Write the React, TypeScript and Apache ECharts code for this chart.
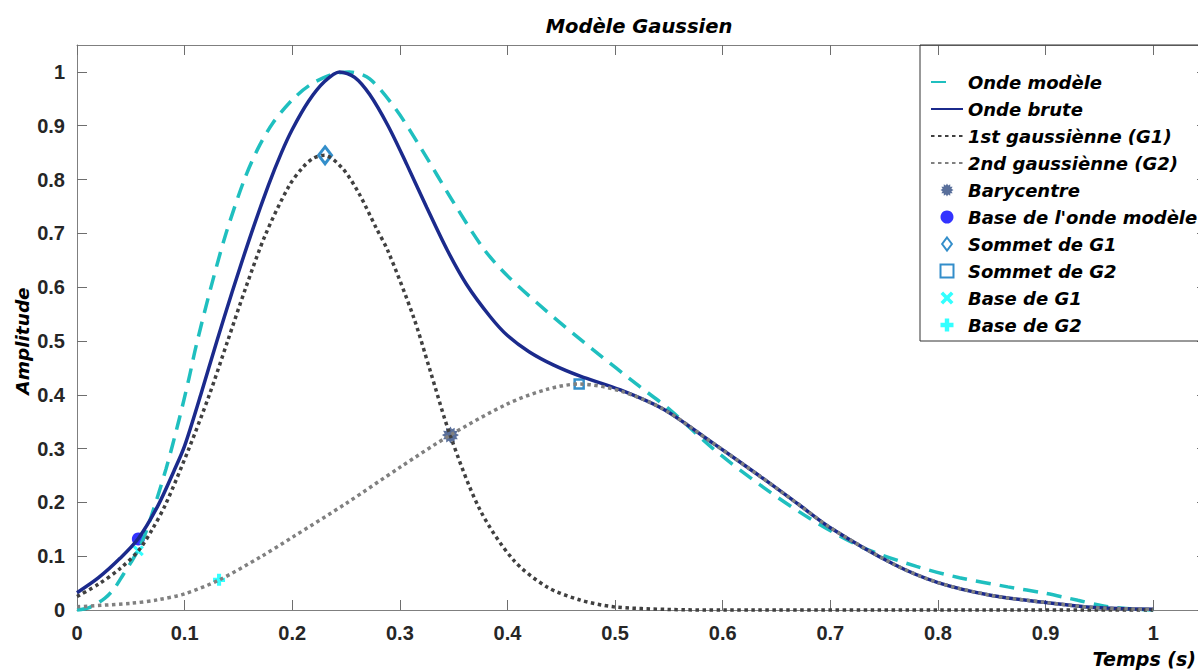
import React, { useEffect, useRef } from "react";
import * as echarts from "echarts";

// ---------- data ----------
const ondeModele: [number, number][] = [
  [0, 0], [0.012, 0.005], [0.026, 0.022], [0.035, 0.041], [0.043, 0.066], [0.05, 0.088],
  [0.057, 0.112], [0.065, 0.15], [0.0827, 0.262], [0.095, 0.355], [0.104, 0.43], [0.1106, 0.49],
  [0.1245, 0.6], [0.1385, 0.7], [0.1555, 0.8], [0.168, 0.857], [0.182, 0.905], [0.2, 0.948],
  [0.216, 0.975], [0.235, 0.994], [0.253, 1.0], [0.272, 0.987], [0.2965, 0.93], [0.32, 0.857],
  [0.35, 0.757], [0.3776, 0.672], [0.399, 0.623], [0.4365, 0.555], [0.48, 0.483], [0.523, 0.415],
  [0.551, 0.372], [0.591, 0.3], [0.635, 0.232], [0.681, 0.17], [0.728, 0.118], [0.78, 0.081],
  [0.82, 0.06], [0.865, 0.043], [0.9, 0.031], [0.93, 0.018], [0.955, 0.007], [0.98, 0.002], [1, 0],
];

const ondeBrute: [number, number][] = [
  [0, 0.032], [0.02, 0.06], [0.04, 0.096], [0.057, 0.133], [0.075, 0.193], [0.09, 0.258],
  [0.1, 0.305], [0.115, 0.4], [0.13, 0.5], [0.144, 0.59], [0.162, 0.7], [0.178, 0.79],
  [0.19, 0.85], [0.2, 0.893], [0.215, 0.945], [0.23, 0.982], [0.244, 1.0], [0.258, 0.99],
  [0.272, 0.958], [0.289, 0.9], [0.306, 0.83], [0.325, 0.748], [0.344, 0.669], [0.362, 0.605],
  [0.384, 0.545], [0.4, 0.51], [0.42, 0.48], [0.443, 0.455], [0.467, 0.435], [0.505, 0.409],
  [0.545, 0.373], [0.591, 0.31], [0.635, 0.248], [0.67, 0.197], [0.7, 0.153], [0.759, 0.085],
  [0.8, 0.051], [0.85, 0.027], [0.9, 0.014], [0.945, 0.0045], [1, 0.0012],
];

const gauss1: [number, number][] = [
  [0, 0.025], [0.02, 0.048], [0.04, 0.077], [0.057, 0.11], [0.07, 0.15], [0.0827, 0.198],
  [0.104, 0.3], [0.123, 0.4], [0.14, 0.5], [0.157, 0.6], [0.175, 0.697], [0.197, 0.788],
  [0.21, 0.823], [0.22, 0.84], [0.23, 0.845], [0.247, 0.82], [0.262, 0.774], [0.278, 0.71],
  [0.289, 0.667], [0.3126, 0.545], [0.328, 0.446], [0.3467, 0.325], [0.3745, 0.186], [0.4055, 0.093],
  [0.4365, 0.043], [0.4675, 0.0186], [0.4985, 0.006], [0.55, 0.001], [0.6, 0], [0.8, 0], [1, 0],
];

const gauss2: [number, number][] = [
  [0, 0.006], [0.05, 0.0125], [0.075, 0.019], [0.1, 0.03], [0.132, 0.0557], [0.17, 0.098],
  [0.2, 0.135], [0.25, 0.198], [0.3, 0.265], [0.3467, 0.325], [0.4, 0.383], [0.4365, 0.41],
  [0.4666, 0.42], [0.505, 0.407], [0.545, 0.373], [0.591, 0.31], [0.635, 0.248], [0.67, 0.197],
  [0.7, 0.153], [0.759, 0.085], [0.8, 0.051], [0.85, 0.027], [0.9, 0.014], [0.945, 0.0045],
  [1, 0.0012],
];

const barycentre: [number, number][] = [[0.347, 0.325]];
const baseOndeModele: [number, number][] = [[0.057, 0.132]];
const sommetG1: [number, number][] = [[0.2305, 0.845]];
const sommetG2: [number, number][] = [[0.4666, 0.42]];
const baseG1: [number, number][] = [[0.057, 0.11]];
const baseG2: [number, number][] = [[0.132, 0.056]];

const seriesNames = [
  "Onde modèle",
  "Onde brute",
  "1st gaussiènne (G1)",
  "2nd gaussiènne (G2)",
  "Barycentre",
  "Base de l'onde modèle",
  "Sommet de G1",
  "Sommet de G2",
  "Base de G1",
  "Base de G2",
];

const titleText = "Modèle Gaussien";
const xName = "Temps (s)";
const yName = "Amplitude";

// ---------- styling helpers ----------
const TXT_FONT = "'DejaVu Sans', Verdana, sans-serif";
const NUM_FONT = "'Liberation Sans', Arial, sans-serif";

function burstSymbol(): string {
  const n = 12;
  const ro = 10;
  const ri = 7;
  let d = "";
  for (let i = 0; i < 2 * n; i++) {
    const r = i % 2 === 0 ? ro : ri;
    const a = (i * Math.PI) / n - Math.PI / 2;
    const px = 10 + r * Math.cos(a);
    const py = 10 + r * Math.sin(a);
    d += (i === 0 ? "M" : "L") + px.toFixed(2) + "," + py.toFixed(2);
  }
  return "path://" + d + "Z";
}
const X_SYMBOL = "path://M2,0 L5,3 L8,0 L10,2 L7,5 L10,8 L8,10 L5,7 L2,10 L0,8 L3,5 L0,2 Z";
const PLUS_SYMBOL = "path://M3.3,0 H6.7 V3.3 H10 V6.7 H6.7 V10 H3.3 V6.7 H0 V3.3 H3.3 Z";
const DIAMOND_SYMBOL = "path://M6,0 L12,8 L6,16 L0,8 Z";
const SQUARE_SYMBOL = "path://M0,0 H10 V10 H0 Z";

export default function App() {
  const ref = useRef<HTMLDivElement>(null);

  useEffect(() => {
    if (!ref.current) return;
    const chart = echarts.init(ref.current, undefined, { renderer: "svg" });

    const axisCommon = {
      type: "value" as const,
      min: 0,
      max: 1.05,
      interval: 0.1,
      splitLine: { show: false },
      axisLine: { show: true, onZero: false, lineStyle: { color: "#7f7f7f", width: 1 } },
      axisTick: { show: true, inside: true, length: 10, lineStyle: { color: "#6e6e6e", width: 1 } },
    };
    const labelCommon = {
      show: true,
      showMaxLabel: false,
      fontSize: 20,
      fontWeight: "bold" as const,
      fontFamily: NUM_FONT,
      color: "#262626",
    };

    const lineCommon = {
      type: "line" as const,
      symbol: "none",
      showSymbol: false,
      smooth: 0.3,
      clip: false,
    };

    const hiddenSym = { opacity: 0 };
    const nameText = (text: string, fontSize: number) => ({
      text,
      fontSize,
      fontWeight: "bold",
      fontStyle: "italic",
      fontFamily: TXT_FONT,
      fill: "#000",
      verticalAlign: "middle",
    });

    chart.setOption({
      animation: false,
      backgroundColor: "#ffffff",
      grid: { left: 77, top: 45, right: 13, bottom: 61, containLabel: false },
      xAxis: [
        { ...axisCommon, position: "bottom", axisLabel: { ...labelCommon, margin: 13 } },
        { ...axisCommon, position: "top", axisLabel: { show: false } },
      ],
      yAxis: [
        { ...axisCommon, position: "left", axisLabel: { ...labelCommon, margin: 12 } },
        { ...axisCommon, position: "right", axisLabel: { show: false } },
      ],
      legend: {
        orient: "vertical",
        left: 920,
        top: 45,
        padding: [27, 30, 6, 10],
        itemWidth: 32,
        itemHeight: 13,
        itemGap: 7,
        borderColor: "#333333",
        borderWidth: 1,
        backgroundColor: "transparent",
        textStyle: {
          fontSize: 18,
          fontWeight: "bold",
          fontStyle: "italic",
          fontFamily: TXT_FONT,
          color: "#000000",
          lineHeight: 20,
        },
        data: [
          { name: seriesNames[0], lineStyle: { type: [15, 30] }, itemStyle: hiddenSym },
          { name: seriesNames[1], itemStyle: hiddenSym },
          { name: seriesNames[2], itemStyle: hiddenSym },
          { name: seriesNames[3], itemStyle: hiddenSym },
          seriesNames[4],
          seriesNames[5],
          seriesNames[6],
          seriesNames[7],
          seriesNames[8],
          seriesNames[9],
        ],
      },
      graphic: [
        {
          type: "text",
          x: 639,
          y: 26,
          style: { ...nameText(titleText, 19.5), align: "center" },
        },
        {
          type: "text",
          x: 1196,
          y: 659,
          style: { ...nameText(xName, 19), align: "right" },
        },
        {
          type: "text",
          x: 22,
          y: 341,
          rotation: Math.PI / 2,
          style: { ...nameText(yName, 18.5), align: "center" },
        },
      ],
      series: [
        {
          ...lineCommon,
          name: seriesNames[0],
          data: ondeModele,
          itemStyle: { color: "#1fbfbf" },
          lineStyle: { color: "#1fbfbf", width: 3.5, type: [15, 9] },
        },
        {
          ...lineCommon,
          name: seriesNames[1],
          data: ondeBrute,
          itemStyle: { color: "#1b2a8c" },
          lineStyle: { color: "#1b2a8c", width: 3.5, type: "solid" },
        },
        {
          ...lineCommon,
          name: seriesNames[2],
          data: gauss1,
          itemStyle: { color: "#404040" },
          lineStyle: { color: "#404040", width: 3.5, type: [3.5, 3.5] },
        },
        {
          ...lineCommon,
          name: seriesNames[3],
          data: gauss2,
          itemStyle: { color: "#808080" },
          lineStyle: { color: "#808080", width: 3.5, type: [3.5, 3.5] },
        },
        {
          type: "scatter",
          name: seriesNames[4],
          data: barycentre,
          symbol: burstSymbol(),
          symbolSize: 17,
          itemStyle: { color: "#2f4b82" },
        },
        {
          type: "scatter",
          name: seriesNames[5],
          data: baseOndeModele,
          symbol: "circle",
          symbolSize: 13,
          itemStyle: { color: "#0000ff" },
        },
        {
          type: "scatter",
          name: seriesNames[6],
          data: sommetG1,
          symbol: DIAMOND_SYMBOL,
          symbolSize: [13, 17],
          itemStyle: { color: "#ffffff", borderColor: "#0072bd", borderWidth: 3 },
        },
        {
          type: "scatter",
          name: seriesNames[7],
          data: sommetG2,
          symbol: SQUARE_SYMBOL,
          symbolSize: 9,
          itemStyle: { color: "#ffffff", borderColor: "#0072bd", borderWidth: 2.5 },
        },
        {
          type: "scatter",
          name: seriesNames[8],
          data: baseG1,
          symbol: X_SYMBOL,
          symbolSize: 11,
          itemStyle: { color: "#00ffff" },
        },
        {
          type: "scatter",
          name: seriesNames[9],
          data: baseG2,
          symbol: PLUS_SYMBOL,
          symbolSize: 12,
          itemStyle: { color: "#00ffff" },
        },
      ],
    });

    return () => {
      chart.dispose();
    };
  }, []);

  return (
    <div
      style={{
        position: "fixed",
        left: 0,
        top: 0,
        width: 1198,
        height: 671,
        overflow: "hidden",
        background: "#ffffff",
      }}
    >
      <div ref={ref} style={{ width: 1220, height: 671 }} />
    </div>
  );
}
